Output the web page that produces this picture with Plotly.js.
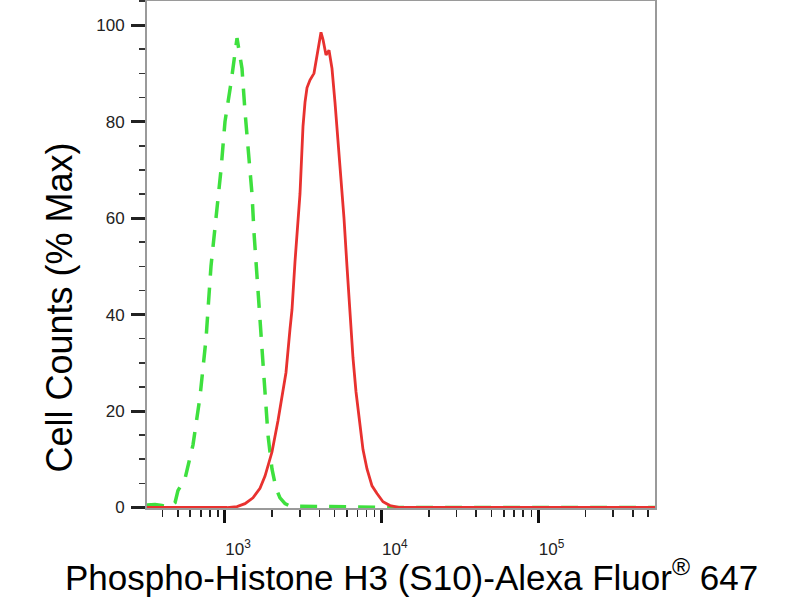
<!DOCTYPE html>
<html>
<head>
<meta charset="utf-8">
<script src="https://cdn.plot.ly/plotly-3.0.1.min.js"></script>
<style>html,body{margin:0;padding:0;background:#fff}#chart{width:800px;height:600px}</style>
</head>
<body>
<div id="chart"></div>
<script>
// Control (isotype) histogram, green dashed
const controlX = [318, 358, 396, 446, 480, 501, 556, 625, 693, 757, 814, 876, 943, 1000, 1092, 1193, 1284, 1342, 1402, 1487, 1531, 1577, 1672, 1747, 1827, 1881, 1994, 2115, 2243, 2415, 2598, 4037, 6273, 9745, 12150, 553700];
const controlY = [0.5, 0.6, 0.4, 0.1, 1, 3.5, 6, 13, 23, 35, 50, 60, 70, 80, 88, 97.3, 91, 82, 74, 65, 57, 50, 39, 30, 22, 15, 8, 4, 2, 0.8, 0.3, 0.2, 0.2, 0.1, 0, 0];

// Stained sample histogram, red solid
const sampleX = [318, 598, 1030, 1193, 1342, 1509, 1672, 1800, 1994, 2178, 2344, 2450, 2598, 2676, 2797, 2922, 3009, 3145, 3239, 3335, 3485, 3696, 3863, 4097, 4219, 4410, 4609, 4816, 5032, 5259, 5495, 5743, 6002, 6273, 6555, 6850, 7264, 7593, 8053, 8667, 9326, 10185, 11288, 13075, 27250, 56800, 137000, 553700];
const sampleY = [0, 0, 0, 0.2, 0.8, 2, 4, 6.5, 11.5, 18, 24, 28, 37, 41, 51, 60, 65, 79, 84, 87, 88.6, 90, 93.4, 98.5, 97, 93.8, 94.8, 91, 84, 76, 67, 60, 50, 40, 31, 24, 17, 12, 8, 4.5, 2.9, 1.2, 0.4, 0, 0, 0, 0, 0];

// Axis ticks
const xMajorVals = [1000, 10000, 100000];
const xMajorText = ['10<sup>3</sup>', '10<sup>4</sup>', '10<sup>5</sup>'];
const xMinorVals = [400, 500, 600, 700, 800, 900, 2000, 3000, 4000, 5000, 6000, 7000, 8000, 9000, 20000, 30000, 40000, 50000, 60000, 70000, 80000, 90000, 200000, 300000, 400000, 500000];
const yMajorVals = [0, 20, 40, 60, 80, 100];
const yMajorText = ['0', '20', '40', '60', '80', '100'];

const xTitle = 'Phospho-Histone H3 (S10)-Alexa Fluor<sup>®</sup> 647';
const yTitle = 'Cell Counts (% Max)';

const FONT = '"Liberation Sans", Arial, sans-serif';

const traces = [
  {x: controlX, y: controlY, type: 'scatter', mode: 'lines', name: 'Control',
   line: {color: '#3ee03e', width: 3.5, dash: '17px,12px'}, hoverinfo: 'skip'},
  {x: sampleX, y: sampleY, type: 'scatter', mode: 'lines', name: 'Phospho-Histone H3 (S10)',
   line: {color: '#e8312f', width: 2.8}, hoverinfo: 'skip'}
];

const layout = {
  width: 800, height: 600,
  margin: {l: 147, r: 145, t: 1, b: 92},
  paper_bgcolor: '#ffffff', plot_bgcolor: '#ffffff',
  showlegend: false,
  font: {family: FONT, color: '#222'},
  xaxis: {
    type: 'log', range: [Math.log10(318), Math.log10(553700)],
    showgrid: false, zeroline: false,
    showline: true, linecolor: '#9a9a9a', linewidth: 2, mirror: true,
    tickmode: 'array', tickvals: xMajorVals, ticktext: xMajorText,
    ticks: 'outside', ticklen: 13, tickwidth: 3, tickcolor: '#111',
    ticklabelstandoff: 12, ticklabelshift: 13,
    tickfont: {size: 17, color: '#222', family: FONT},
    minor: {tickmode: 'array', tickvals: xMinorVals, ticks: 'outside', ticklen: 7, tickwidth: 1.6, tickcolor: '#222', showgrid: false}
  },
  yaxis: {
    range: [-0.1, 105],
    showgrid: false, zeroline: false,
    showline: true, linecolor: '#9a9a9a', linewidth: 2, mirror: true,
    tickmode: 'array', tickvals: yMajorVals, ticktext: yMajorText,
    ticks: 'outside', ticklen: 14, tickwidth: 3, tickcolor: '#222',
    ticklabelstandoff: 3,
    tickfont: {size: 17, color: '#222', family: FONT},
    minor: {dtick: 5, ticks: 'outside', ticklen: 6, tickwidth: 1.6, tickcolor: '#333', showgrid: false}
  },
  annotations: [
    {text: yTitle, xref: 'paper', yref: 'paper', x: -0.1732, y: 0.3955,
     xanchor: 'center', yanchor: 'middle', textangle: -90, showarrow: false,
     font: {size: 36, color: '#000', family: FONT}},
    {text: xTitle, xref: 'paper', yref: 'paper', x: 0.5197, y: -0.0847,
     xanchor: 'center', yanchor: 'top', showarrow: false,
     font: {size: 35, color: '#000', family: FONT}}
  ]
};

Plotly.newPlot('chart', traces, layout, {staticPlot: true, displayModeBar: false});
</script>
</body>
</html>
